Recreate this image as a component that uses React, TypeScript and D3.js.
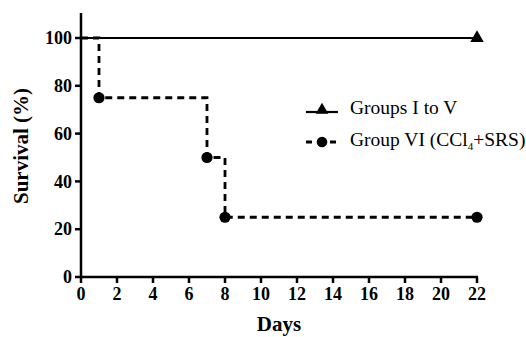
import * as d3 from "d3";

const controlDays = [0, 22];
const controlSurvival = [100, 100];
const sraDays = [0, 1, 7, 8, 22];
const sraSurvival = [100, 75, 50, 25, 25];
const markerIdx = [1, 2, 3, 4];
const xTicks = [0, 2, 4, 6, 8, 10, 12, 14, 16, 18, 20, 22];
const yTicks = [0, 20, 40, 60, 80, 100];

const font = "'Liberation Serif', 'Times New Roman', serif";

function AxisBottom({ scale, height }) {
  const [x0, x1] = scale.range();
  return (
    <g transform={`translate(0,${height})`}>
      <path d={`M${x0 - 1},0H${x1 + 1}`} stroke="#000" strokeWidth={2.5} />
      {xTicks.map((t) => (
        <g key={t} transform={`translate(${scale(t)},0)`}>
          <line y2={6} stroke="#000" strokeWidth={2.5} />
          <text y={23} textAnchor="middle" fontFamily={font} fontSize={18} fontWeight="bold">{t}</text>
        </g>
      ))}
    </g>
  );
}

function AxisLeft({ scale, top }) {
  return (
    <g>
      <path d={`M0,${scale.range()[0] + 1}V${top}`} stroke="#000" strokeWidth={2.5} />
      {yTicks.map((t) => (
        <g key={t} transform={`translate(0,${scale(t)})`}>
          <line x2={-6} stroke="#000" strokeWidth={2.5} />
          <text x={-9} dy="0.34em" textAnchor="end" fontFamily={font} fontSize={18} fontWeight="bold">{t}</text>
        </g>
      ))}
    </g>
  );
}

export default function App() {
  const margin = { left: 81, top: 38, right: 49, bottom: 60 };
  const width = 526 - margin.left - margin.right;
  const height = 337 - margin.top - margin.bottom;

  const x = d3.scaleLinear().domain([0, 22]).range([0, width]);
  const y = d3.scaleLinear().domain([0, 100]).range([height, 0]);

  const step = d3.line<number>()
    .x((d, i) => x(sraDays[i]))
    .y((d) => y(d))
    .curve(d3.curveStepAfter);
  const flat = d3.line<number>()
    .x((d, i) => x(controlDays[i]))
    .y((d) => y(d));

  const tri = d3.symbol().type(d3.symbolTriangle).size(80)();
  const triSmall = d3.symbol().type(d3.symbolTriangle).size(70)();

  return (
    <svg width={526} height={337} style={{ position: "absolute", left: 0, top: 0 }}>
      <g transform={`translate(${margin.left},${margin.top})`}>
        <path d={flat(controlSurvival) ?? ""} fill="none" stroke="#000" strokeWidth={2} />
        <path d={step(sraSurvival) ?? ""} fill="none" stroke="#000" strokeWidth={2.8} strokeDasharray="7,5" />
        <path d={tri} transform={`translate(${x(controlDays[1])},${y(controlSurvival[1])})`} fill="#000" />
        {markerIdx.map((i) => (
          <circle key={i} cx={x(sraDays[i])} cy={y(sraSurvival[i])} r={5.6} fill="#000" />
        ))}
        <AxisBottom scale={x} height={height} />
        <AxisLeft scale={y} top={-25} />
      </g>
      <text x={21} y={146} transform="rotate(-90,21,146)" textAnchor="middle" dominantBaseline="central"
        fontFamily={font} fontSize={21} fontWeight="bold">Survival (%)</text>
      <text x={279} y={331} textAnchor="middle" fontFamily={font} fontSize={21} fontWeight="bold">Days</text>
      <g fontFamily={font} fontSize={19.5}>
        <line x1={306} x2={338} y1={112} y2={112} stroke="#000" strokeWidth={2.2} />
        <path d={triSmall} transform="translate(322,110)" fill="#000" />
        <text x={350} y={110} dominantBaseline="middle">Groups I to V</text>
        <line x1={306} x2={340} y1={142} y2={142} stroke="#000" strokeWidth={2.8} strokeDasharray="6,6" />
        <circle cx={322} cy={142} r={5.3} fill="#000" />
        <text x={350} y={142} dominantBaseline="middle">Group VI (CCl<tspan fontSize={11} dy={5}>4</tspan><tspan dy={-5}>+SRS)</tspan></text>
      </g>
    </svg>
  );
}
